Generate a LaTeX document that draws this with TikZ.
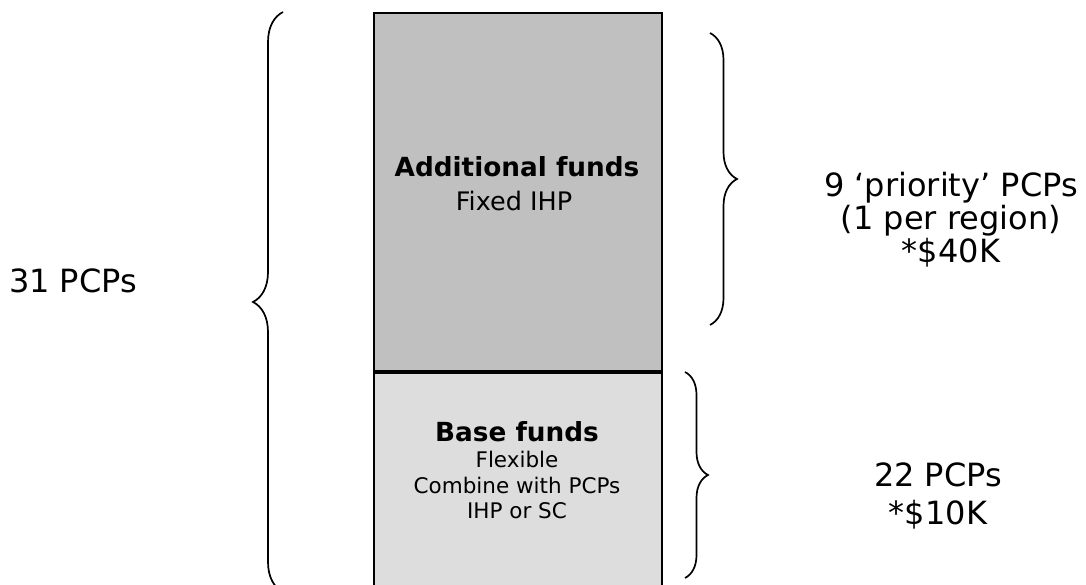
\documentclass[tikz,border=0pt]{standalone}
\usepackage{fontspec}
\setmainfont{DejaVu Sans}
\usetikzlibrary{decorations.pathreplacing,positioning,calc}
\definecolor{addGray}{HTML}{C0C0C0}
\definecolor{baseGray}{HTML}{DDDDDD}

\begin{document}
\begin{tikzpicture}[x=1pt,y=1pt,
  fund/.style={draw,line width=2pt,minimum width=288pt,inner sep=0pt},
  head/.style={anchor=base,font=\fontsize{26.3}{30}\selectfont\bfseries},
  curly/.style={decorate,decoration={brace,amplitude=#1},line width=1.7pt},
  side/.style={anchor=base,align=center,font=\fontsize{32}{33}\selectfont}]
  \useasboundingbox (0,0) rectangle (1086,585);

  % stacked funding boxes
  \node[fund,fill=addGray,minimum height=358pt,anchor=south west] (addl) at (373,213) {};
  \node[fund,fill=baseGray,minimum height=226pt,anchor=north west] (base) at (addl.south west) {};

  % box texts
  \node[head] (addlHead) at (517,408) {Additional funds};
  \node[anchor=base,font=\fontsize{25.5}{30}\selectfont] (addlUse) at (514,374) {Fixed IHP};
  \node[head] (baseHead) at (517,143) {Base funds};
  \node[anchor=base,align=center,font=\fontsize{21.5}{25.5}\selectfont] (baseUse) at (517,66)
    {Flexible\\ Combine with PCPs\\ IHP or SC};

  % braces
  \coordinate (allBot) at (283,-7);
  \coordinate (allTop) at (283,573);
  \coordinate (prioTop) at (710,552);
  \coordinate (prioBot) at (710,260);
  \coordinate (restTop) at (685,213);
  \coordinate (restBot) at (685,7);
  \draw[curly=30] (allBot) -- (allTop);
  \draw[curly=27] (prioTop) -- (prioBot);
  \draw[curly=23] (restTop) -- (restBot);

  % labels
  \node[side] (allLbl) at (73,292) {31 PCPs};
  \node[side] (prioLbl) at (951,322) {9 ‘priority’ PCPs\\ (1 per region)\\ *\$40K};
  \node[side,font=\fontsize{32}{38}\selectfont] (restLbl) at (938,60) {22 PCPs\\ *\$10K};
\end{tikzpicture}
\end{document}
